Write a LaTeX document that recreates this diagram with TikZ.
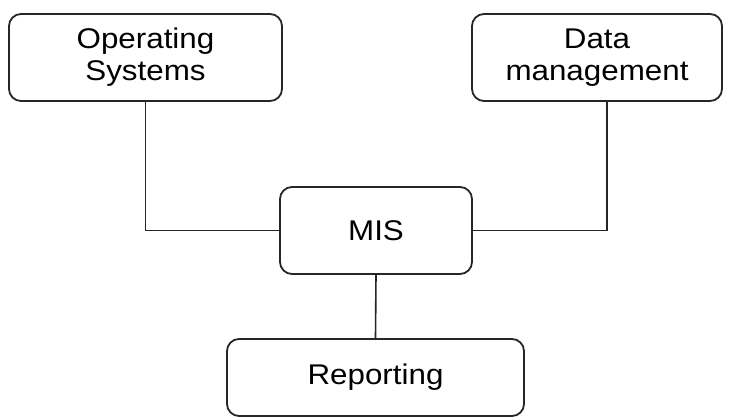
\documentclass[tikz,border=0pt]{standalone}
\usepackage{fontspec}
\setmainfont{Liberation Sans}[FakeStretch=1.1]
\begin{document}
\begin{tikzpicture}[x=1pt,y=-1pt,
  box/.style={draw=black!85, line width=1.8pt, rounded corners=12pt, fill=white,
    inner sep=0pt, align=center, font=\fontsize{28.5}{32}\selectfont},
  link/.style={draw=black!85, line width=1.6pt}]
\useasboundingbox (0,0) rectangle (734,419);
\node[box, minimum width=273pt, minimum height=87pt] (os) at (145.5,57.5) {Operating\\Systems};
\node[box, minimum width=250pt, minimum height=87pt] (dm) at (597,57.5) {Data\\management};
\node[box, minimum width=192pt, minimum height=87pt] (mis) at (376,230.5) {MIS};
\node[box, minimum width=297pt, minimum height=77pt] (rep) at (375.5,377.5) {Reporting};
\draw[link] (os.south) |- (mis.west);
\draw[link] ([xshift=10pt]dm.south) |- (mis.east);
\draw[link] (mis.south) -- (rep.north);
\end{tikzpicture}
\end{document}
